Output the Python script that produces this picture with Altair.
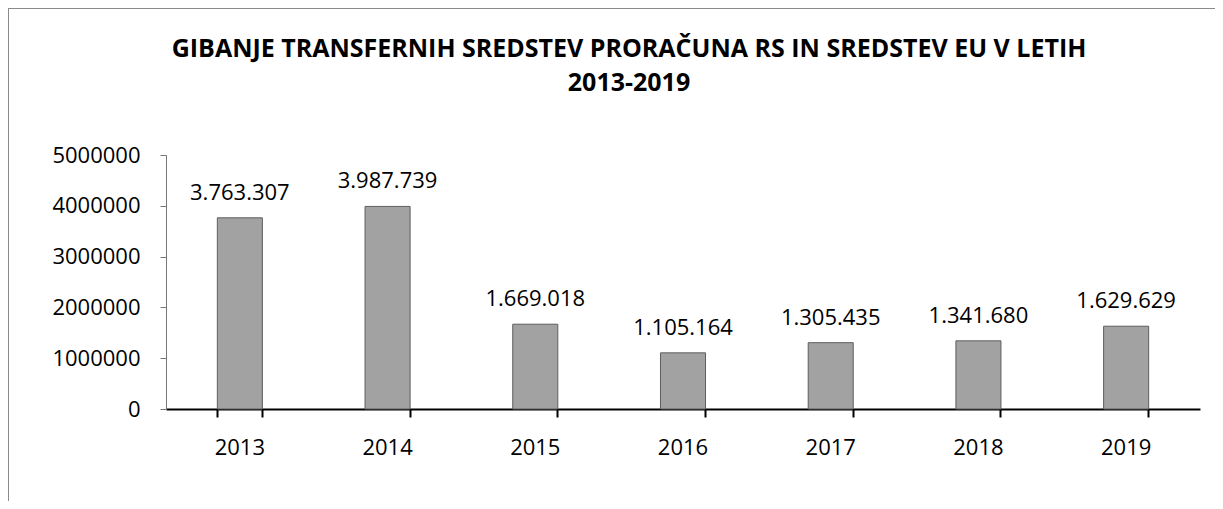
import altair as alt
import pandas as pd

years = ["2013", "2014", "2015", "2016", "2017", "2018", "2019"]
values = [3763307, 3987739, 1669018, 1105164, 1305435, 1341680, 1629629]
labels = [f"{v:,}".replace(",", ".") for v in values]

title_lines = ["GIBANJE TRANSFERNIH SREDSTEV PRORAČUNA RS IN SREDSTEV EU V LETIH", "2013-2019"]

df = pd.DataFrame({"year": years, "value": values, "label": labels})

FONT = "Open Sans"

base = alt.Chart(df)

x_enc = alt.X(
    "year:N",
    sort=years,
    title=None,
    scale=alt.Scale(paddingInner=0.695, paddingOuter=0.3475),
    axis=alt.Axis(
        labelAngle=0,
        labelFont=FONT,
        labelFontSize=22,
        labelColor="#000000",
        labelPadding=20,
        domainColor="#000000",
        domainWidth=2,
        tickColor="#000000",
        tickWidth=2,
        tickSize=8,
        bandPosition=1,
        tickExtra=True,
        grid=False,
    ),
)

y_enc = alt.Y(
    "value:Q",
    title=None,
    scale=alt.Scale(domain=[0, 5000000], nice=False),
    axis=alt.Axis(
        values=[0, 1000000, 2000000, 3000000, 4000000, 5000000],
        format="d",
        labelFont=FONT,
        labelFontSize=22,
        labelColor="#000000",
        labelPadding=20,
        domainColor="#777777",
        domainWidth=1,
        tickColor="#777777",
        tickSize=6,
        grid=False,
    ),
)

bars = base.mark_bar(fill="#a2a2a2", stroke="#5e5e5e", strokeWidth=1).encode(x=x_enc, y=y_enc)

text = base.mark_text(
    font=FONT, fontSize=22, color="#000000", baseline="alphabetic", dy=-18
).encode(x=alt.X("year:N", sort=years), y=alt.Y("value:Q"), text="label:N")

frame_df = pd.DataFrame({"a": [0]})
frame_top = alt.Chart(frame_df).mark_rule(color="#8a8a8a", strokeWidth=1).encode(
    x=alt.value(-158), x2=alt.value(1060), y=alt.value(-146.5)
)
frame_left = alt.Chart(frame_df).mark_rule(color="#8a8a8a", strokeWidth=1).encode(
    x=alt.value(-157.5), y=alt.value(-147), y2=alt.value(360)
)

chart = (
    alt.layer(bars, text, frame_top, frame_left)
    .properties(
        width=1034,
        height=254,
        padding={"left": 158, "top": 147, "right": 15, "bottom": 92},
        autosize=alt.AutoSizeParams(type="none"),
        title=alt.TitleParams(
            text=title_lines,
            font=FONT,
            fontSize=25,
            fontWeight="bold",
            color="#000000",
            anchor="middle",
            frame="group",
            dx=-54,
            offset=-88,
            lineHeight=34,
        ),
    )
    .configure(background="white")
    .configure_view(strokeWidth=0, stroke="transparent")
)

chart.save("out.html", embed_options={"renderer": "svg", "actions": False})
